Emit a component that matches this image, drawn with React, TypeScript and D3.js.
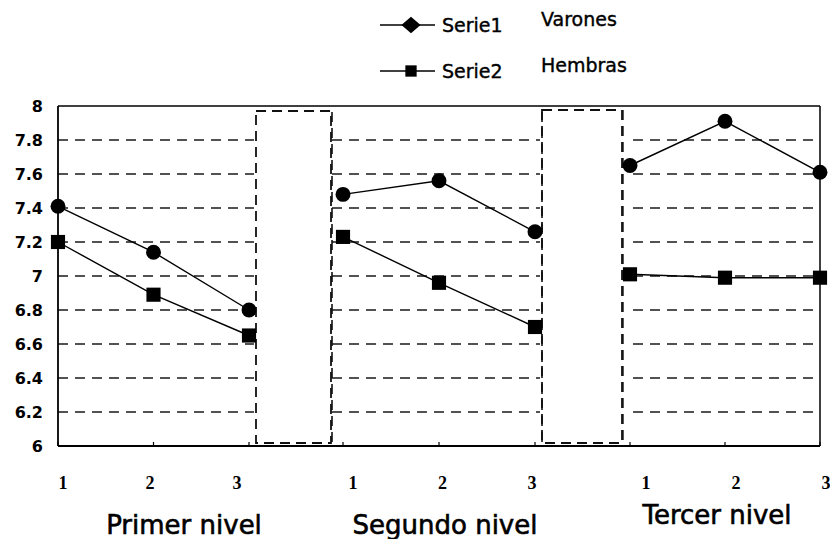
import * as d3 from 'd3';
import React from 'react';

// values
const groups = ['Primer nivel', 'Segundo nivel', 'Tercer nivel'];
const subLabels = ['1', '2', '3'];
const varones = [
  [7.41, 7.14, 6.8],
  [7.48, 7.56, 7.26],
  [7.65, 7.91, 7.61],
];
const hembras = [
  [7.2, 6.89, 6.65],
  [7.23, 6.96, 6.7],
  [7.01, 6.99, 6.99],
];
const yTicks = [6, 6.2, 6.4, 6.6, 6.8, 7, 7.2, 7.4, 7.6, 7.8, 8];
const legendNames = ['Serie1', 'Serie2'];
const legendNotes = ['Varones', 'Hembras'];

const W = 830;
const H = 539;
const top = 106;
const bottom = 446;
const left = 58;
const right = 820;

// each panel: its own box, point range and label range
const panels = [
  { x0: left, x1: 256, grid0: left, pts: [58, 249], lab: [63, 237], cx: 184, cy: 525 },
  { x0: 332, x1: 542, grid0: 332, pts: [343, 535], lab: [353, 532], cx: 445, cy: 525 },
  { x0: 623, x1: right, grid0: 633, pts: [630, 820], lab: [646, 826], cx: 717, cy: 515 },
];
const gaps = [
  [256, 331, 111],
  [542, 622, 110],
];

const sans = '"DejaVu Sans", sans-serif';
const serif = '"Liberation Serif", "DejaVu Serif", serif';

const App: React.FC = () => {
  const y = d3.scaleLinear().domain([6, 8]).range([bottom, top]);
  const line = d3.line<[number, number]>().x(d => d[0]).y(d => d[1]);
  const circle = d3.symbol().type(d3.symbolCircle).size(175)();
  const square = d3.symbol().type(d3.symbolSquare).size(200)();
  const diamond = d3.symbol().type(d3.symbolDiamond).size(110)();

  return (
    <svg width={W} height={H} style={{ position: 'absolute', left: 0, top: 0, background: '#fff' }}>
      {/* gridlines per panel */}
      {panels.map((p, i) =>
        yTicks.slice(1, -1).map(t => (
          <line key={`g${i}-${t}`} x1={p.grid0} x2={p.x1 - 2} y1={y(t)} y2={y(t)}
            stroke="#1a1a1a" strokeWidth={1.5} strokeDasharray="10,7" />
        ))
      )}

      {/* dashed gap rectangles */}
      {gaps.map(([a, b, t], i) => (
        <rect key={`gap${i}`} x={a} y={t} width={b - a} height={bottom - 3 - t}
          fill="#fff" stroke="#111" strokeWidth={1.8} strokeDasharray="10,6" />
      ))}

      {/* panel side borders */}
      <line x1={332} x2={332} y1={top + 6} y2={bottom} stroke="#111" strokeWidth={1.6} strokeDasharray="10,6" />
      <line x1={542} x2={542} y1={top + 6} y2={bottom} stroke="#111" strokeWidth={1.6} strokeDasharray="10,6" />
      <line x1={623} x2={623} y1={top + 4} y2={bottom} stroke="#111" strokeWidth={1.4} strokeDasharray="10,6" />

      {/* frame */}
      <line x1={left} x2={right} y1={top} y2={top} stroke="#000" strokeWidth={1.6} />
      <line x1={left} x2={right} y1={bottom} y2={bottom} stroke="#000" strokeWidth={1.8} />
      <line x1={left} x2={left} y1={top} y2={bottom} stroke="#000" strokeWidth={1.8} />
      <line x1={right} x2={right} y1={top} y2={bottom} stroke="#000" strokeWidth={1.5} />

      {/* y tick labels */}
      {yTicks.map(t => (
        <text key={`yt${t}`} x={43} y={y(t)} dy="0.36em" textAnchor="end"
          fontFamily={sans} fontWeight="bold" fontSize={16}>
          {d3.format('~g')(t)}
        </text>
      ))}

      {panels.map((p, i) => {
        const x = d3.scalePoint<string>().domain(subLabels).range(p.pts as [number, number]);
        const xl = d3.scalePoint<string>().domain(subLabels).range(p.lab as [number, number]);
        const s1 = subLabels.map((s, j) => [x(s)!, y(varones[i][j])] as [number, number]);
        const s2 = subLabels.map((s, j) => [x(s)!, y(hembras[i][j])] as [number, number]);
        return (
          <g key={`p${i}`}>
            {subLabels.map(s => (
              <line key={`tk${s}`} x1={x(s)} x2={x(s)} y1={bottom} y2={bottom - 4} stroke="#000" strokeWidth={1.2} />
            ))}
            <path d={line(s1)!} fill="none" stroke="#000" strokeWidth={1.4} />
            <path d={line(s2)!} fill="none" stroke="#000" strokeWidth={1.4} />
            {s1.map((d, j) => (
              <path key={`c${j}`} d={circle} transform={`translate(${d[0]},${d[1]})`} fill="#000" />
            ))}
            {s2.map((d, j) => (
              <path key={`s${j}`} d={square} transform={`translate(${d[0]},${d[1]})`} fill="#000" />
            ))}
            {subLabels.map(s => (
              <text key={`xl${s}`} x={xl(s)} y={483} dy="0.35em" textAnchor="middle"
                fontFamily={serif} fontWeight="bold" fontSize={18}>
                {s}
              </text>
            ))}
            <text x={p.cx} y={p.cy} dy="0.36em" textAnchor="middle" fontFamily={sans} fontSize={26}
              stroke="#000" strokeWidth={0.6}>
              {groups[i]}
            </text>
          </g>
        );
      })}

      {/* legend */}
      {legendNames.map((name, i) => {
        const ly = 25 + i * 46;
        return (
          <g key={`lg${i}`}>
            <line x1={380} x2={435} y1={ly} y2={ly} stroke="#000" strokeWidth={1.5} />
            <path d={i === 0 ? diamond : square} transform={`translate(411,${ly}) scale(${i === 0 ? '1.7,0.85' : '0.8'})`} fill="#000" />
            <text x={442} y={ly} dy="0.36em" fontFamily={sans} fontSize={19} stroke="#000" strokeWidth={0.4}>{name}</text>
            <text x={541} y={ly - 6} dy="0.36em" fontFamily={sans} fontSize={19} stroke="#000" strokeWidth={0.4}>{legendNotes[i]}</text>
          </g>
        );
      })}
    </svg>
  );
};

export default App;
